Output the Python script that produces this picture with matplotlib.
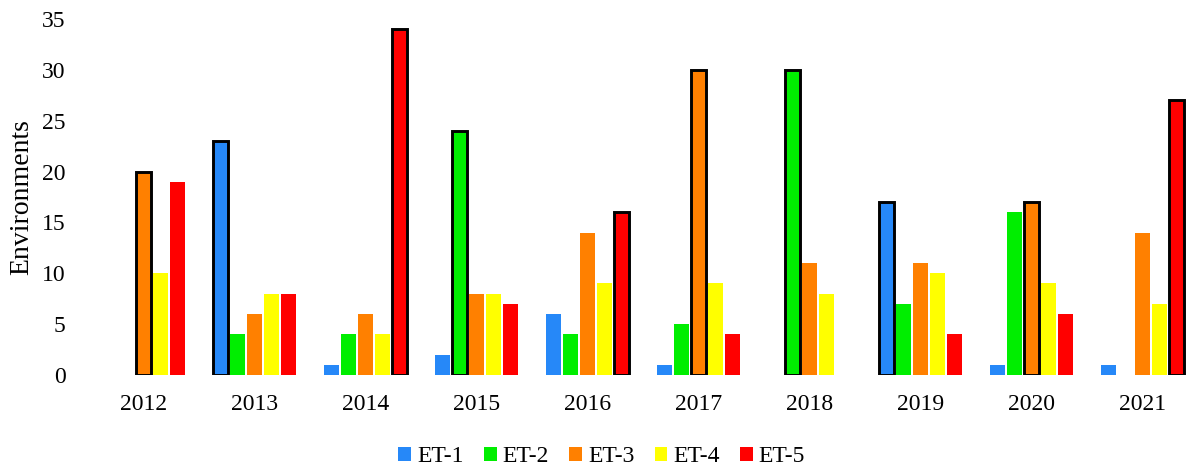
import numpy as np
import matplotlib
matplotlib.use("Agg")
import matplotlib.pyplot as plt
from matplotlib.patches import Patch

plt.rcParams['font.family'] = ['Liberation Serif', 'DejaVu Serif']

# -----------------------------
# Data
# -----------------------------
years = ["2012", "2013", "2014", "2015", "2016", "2017", "2018", "2019", "2020", "2021"]
series_names = ["ET-1", "ET-2", "ET-3", "ET-4", "ET-5"]

et1 = [0, 23, 1, 2, 6, 1, 0, 17, 1, 1]
et2 = [0, 4, 4, 24, 4, 5, 30, 7, 16, 0]
et3 = [20, 6, 6, 8, 14, 30, 11, 11, 17, 14]
et4 = [10, 8, 4, 8, 9, 9, 8, 10, 9, 7]
et5 = [19, 8, 34, 7, 16, 4, 0, 4, 6, 27]

colors = ["#2688F8", "#00EE00", "#FF8000", "#FFFF00", "#FF0000"]

values = np.array([et1, et2, et3, et4, et5])
best = values.argmax(axis=0)  # the largest bar per year gets a black outline

# -----------------------------
# Figure
# -----------------------------
fig = plt.figure(figsize=(11.87, 4.66), dpi=100)
ax = fig.add_axes([88 / 1187, 91 / 466, 1099 / 1187, 356 / 466])

x = np.arange(len(years))
step = 0.153
width = 0.128

for i, (name, color) in enumerate(zip(series_names, colors)):
    pos = x + (i - 2) * step
    edges = ["black" if best[j] == i else "none" for j in range(len(years))]
    lws = [2.1 if best[j] == i else 0 for j in range(len(years))]
    ax.bar(pos, values[i], width=width, color=color, edgecolor=edges,
           linewidth=lws, zorder=2)

ax.set_xlim(-0.5, -0.5 + 1099 / 111)
ax.set_ylim(0, 35)
ax.set_yticks(range(0, 36, 5))
ax.set_xticks(x)
ax.set_xticklabels(years)
ax.tick_params(axis="both", length=0, labelsize=17)
ax.tick_params(axis="y", pad=16)
ax.tick_params(axis="x", pad=14)

for s in ax.spines.values():
    s.set_visible(False)

ax.set_ylabel("Environments", fontsize=20, labelpad=6)

handles = [Patch(facecolor=c, edgecolor="none", label=n)
           for n, c in zip(series_names, colors)]
fig.legend(handles=handles, loc="lower center", bbox_to_anchor=(0.507, -0.048),
           ncol=5, frameon=False, fontsize=17, handlelength=0.55,
           handleheight=0.55, handletextpad=0.25, columnspacing=0.85)

fig.savefig("out.png", dpi=100)
plt.close()
